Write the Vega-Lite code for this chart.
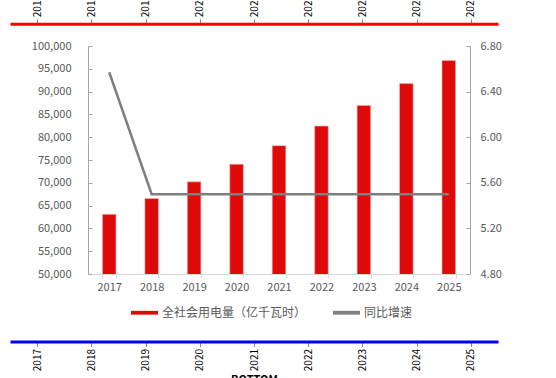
{
  "$schema": "https://vega.github.io/schema/vega-lite/v6.json",
  "width": 488,
  "height": 228,
  "autosize": "none",
  "padding": {"left": 10, "top": 46, "right": 58, "bottom": 104},
  "background": "white",
  "config": {
    "view": {"stroke": null},
    "font": "Noto Sans CJK SC"
  },
  "data": {
    "values": [
      {"year": "2017", "power": 63077, "growth": 6.57},
      {"year": "2018", "power": 66546, "growth": 5.5},
      {"year": "2019", "power": 70206, "growth": 5.5},
      {"year": "2020", "power": 74067, "growth": 5.5},
      {"year": "2021", "power": 78141, "growth": 5.5},
      {"year": "2022", "power": 82439, "growth": 5.5},
      {"year": "2023", "power": 86973, "growth": 5.5},
      {"year": "2024", "power": 91756, "growth": 5.5},
      {"year": "2025", "power": 96803, "growth": 5.5}
    ]
  },
  "layer": [
    {
      "mark": {"type": "point", "opacity": 0},
      "encoding": {
        "x": {
          "field": "year", "type": "ordinal",
          "axis": {
            "orient": "top", "offset": 22.3, "domain": true,
            "domainColor": "#ff0000", "domainWidth": 3,
            "title": "TOP"
          }
        }
      }
    },
    {
      "mark": {"type": "point", "opacity": 0},
      "encoding": {
        "x": {
          "field": "year", "type": "ordinal",
          "axis": {
            "orient": "bottom", "offset": 67.5, "domain": true,
            "domainColor": "#0000ff", "domainWidth": 3,
            "title": "BOTTOM"
          }
        }
      }
    },
    {
      "mark": {"type": "bar", "stroke": "#F5B5B5", "strokeWidth": 0.6, "clip": true},
      "encoding": {
        "x": {
          "field": "year", "type": "ordinal",
          "scale": {"range": [78, 460], "paddingInner": 0.68, "paddingOuter": 0.34},
          "axis": {
            "orient": "bottom", "title": null, "labelAngle": 0, "grid": false,
            "domainColor": "#D9D9D9", "tickColor": "#D9D9D9", "tickBand": "extent",
            "tickSize": 4, "labelPadding": 3, "labelColor": "#595959", "labelFontSize": 11
          }
        },
        "y": {
          "field": "power", "type": "quantitative",
          "scale": {"domain": [50000, 100000], "zero": false, "nice": false},
          "axis": {
            "orient": "left", "offset": -78, "title": null, "grid": false,
            "values": [50000, 55000, 60000, 65000, 70000, 75000, 80000, 85000, 90000, 95000, 100000],
            "format": ",d", "domainColor": "#A6A6A6", "tickColor": "#A6A6A6",
            "tickSize": -4, "labelPadding": 21, "labelColor": "#595959", "labelFontSize": 11
          }
        },
        "color": {
          "datum": "全社会用电量（亿千瓦时）", "type": "nominal",
          "scale": {"domain": ["全社会用电量（亿千瓦时）", "同比增速"], "range": ["#DE0A0A", "#7F7F7F"]},
          "legend": {
            "orient": "none", "legendX": 121, "legendY": 253, "direction": "horizontal",
            "title": null, "symbolType": "M-1,-0.14L1,-0.14L1,0.14L-1,0.14Z", "symbolSize": 729,
            "symbolStrokeWidth": 0, "labelFontSize": 12, "labelColor": "#595959",
            "columnPadding": 26, "labelOffset": 4
          }
        }
      }
    },
    {
      "mark": {"type": "line", "color": "#7F7F7F", "strokeWidth": 2.5},
      "encoding": {
        "x": {
          "field": "year", "type": "ordinal",
          "scale": {"range": [78, 460], "paddingInner": 0.68, "paddingOuter": 0.34},
          "axis": null
        },
        "y": {
          "field": "growth", "type": "quantitative",
          "scale": {"domain": [4.8, 6.8], "zero": false, "nice": false},
          "axis": {
            "orient": "right", "offset": -28, "title": null, "grid": false,
            "values": [4.8, 5.2, 5.6, 6.0, 6.4, 6.8], "format": ".2f",
            "domainColor": "#A6A6A6", "tickColor": "#A6A6A6",
            "tickSize": -4, "labelPadding": 14, "labelColor": "#595959", "labelFontSize": 11
          }
        }
      }
    }
  ],
  "resolve": {
    "scale": {"x": "independent", "y": "independent"},
    "axis": {"x": "independent", "y": "independent"}
  }
}
